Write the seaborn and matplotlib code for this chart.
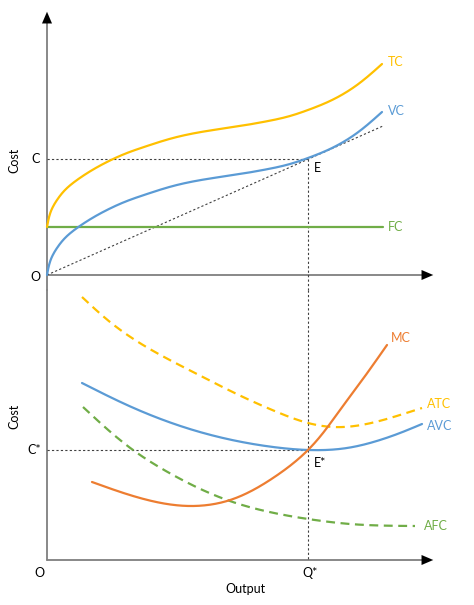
import numpy as np
import pandas as pd
import matplotlib
matplotlib.use("Agg")
import matplotlib.pyplot as plt
import seaborn as sns

sns.set_theme(style="white")
plt.rcParams['font.family'] = ['Lato', 'DejaVu Sans']

# ---- data (output units on x, cost units on y) ----
# top panel
vc_x = [0, 4, 10, 18, 30, 47, 64, 80, 97, 126, 160, 193, 216, 243, 261, 283, 310, 335]
vc_y = [0, 16, 27, 37, 47, 58, 67, 74, 80, 89, 96, 101, 105, 111, 117, 126, 142, 163]
tc_x = [0, 4, 10, 18, 30, 47, 64, 80, 97, 126, 160, 193, 216, 243, 261, 283, 310, 335]
tc_y = [48, 64, 75, 85, 95, 106, 115, 122, 128, 137, 144, 149, 153, 159, 165, 174, 190, 211]
fc_x = [0, 336]
fc_y = [48, 48]
ray_x = [0, 336]
ray_y = [0, 149]
q_star = 261
c_top = 116

# bottom panel
atc_x = [35, 63, 96, 146, 196, 230, 261, 286, 353, 375]
atc_y = [263, 238, 215, 188, 163, 148, 137, 133, 145, 152]
avc_x = [35, 80, 146, 226, 261, 300, 333, 353, 375]
avc_y = [177, 155, 130, 113, 110, 112, 120, 127, 136]
afc_x = [36, 86, 126, 180, 261, 303, 368]
afc_y = [153, 110, 85, 60, 41, 36, 34]
mc_x = [45, 93, 143, 180, 226, 261, 276, 293, 313, 340]
mc_y = [78, 62, 54, 59, 82, 110, 127, 150, 177, 215]
c_bot = 110

YEL, BLU, GRN, ORG = "#FFC000", "#5B9BD5", "#70AD47", "#ED7D31"
AXC = "#7F7F7F"


def _natural(t, f, ts):
    n = len(t)
    h = np.diff(t)
    A = np.zeros((n, n)); b = np.zeros(n)
    A[0, 0] = A[-1, -1] = 1
    for i in range(1, n - 1):
        A[i, i - 1] = h[i - 1]; A[i, i] = 2 * (h[i - 1] + h[i]); A[i, i + 1] = h[i]
        b[i] = 6 * ((f[i + 1] - f[i]) / h[i] - (f[i] - f[i - 1]) / h[i - 1])
    M = np.linalg.solve(A, b)
    idx = np.clip(np.searchsorted(t, ts) - 1, 0, n - 2)
    hi = h[idx]; a = t[idx + 1] - ts; c = ts - t[idx]
    return (M[idx] * a**3 / (6 * hi) + M[idx + 1] * c**3 / (6 * hi)
            + (f[idx] / hi - M[idx] * hi / 6) * a + (f[idx + 1] / hi - M[idx + 1] * hi / 6) * c)


def smooth(x, y, n=400):
    """Parametric natural cubic spline through the read points (drawing only)."""
    x = np.asarray(x, float); y = np.asarray(y, float)
    if len(x) < 3:
        return x, y
    t = np.concatenate([[0], np.cumsum(np.hypot(np.diff(x), np.diff(y)))])
    ts = np.linspace(0, t[-1], n)
    return _natural(t, x, ts), _natural(t, y, ts)


def curve(ax, x, y, color, ls="-", lw=1.6):
    sx, sy = smooth(x, y)
    df = pd.DataFrame({"x": sx, "y": sy})
    sns.lineplot(data=df, x="x", y="y", sort=False, ax=ax, color=color,
                 linestyle=ls, linewidth=lw, estimator=None)


W, H = 474, 605
fig = plt.figure(figsize=(W / 100, H / 100), dpi=100)
fig.patch.set_facecolor("white")

# top axes: pixel rows 0..290, origin at pixel (47,275)
ax1 = fig.add_axes([0, 1 - 290 / H, 1, 290 / H])
ax1.set_xlim(-47, W - 47)
ax1.set_ylim(275 - 290, 275)
# bottom axes: pixel rows 290..605, origin at pixel (47,560)
ax2 = fig.add_axes([0, 0, 1, 315 / H])
ax2.set_xlim(-47, W - 47)
ax2.set_ylim(560 - 605, 560 - 290)
for ax in (ax1, ax2):
    ax.axis("off")

arrow = dict(arrowstyle="-|>,head_width=0.3,head_length=0.7", color="black", lw=0.01)

# --- top panel ---
ax1.plot([0, 0], [-15, 258], color=AXC, lw=1.3, clip_on=False)
ax1.annotate("", xy=(0, 266), xytext=(0, 250), arrowprops=arrow)
ax1.plot([0, 378], [0, 0], color=AXC, lw=1.3)
ax1.annotate("", xy=(389, 0), xytext=(372, 0), arrowprops=arrow)

ax1.plot([0, q_star], [c_top, c_top], color="#404040", lw=0.8, ls=(0, (2, 2)))
ax1.plot([q_star, q_star], [c_top, -15], color="#404040", lw=0.8, ls=(0, (2, 2)), clip_on=False)
ax1.plot(ray_x, ray_y, color="#404040", lw=0.8, ls=(0, (2, 2)))

curve(ax1, fc_x, fc_y, GRN)
curve(ax1, tc_x, tc_y, YEL)
curve(ax1, vc_x, vc_y, BLU)

fs = 9
ax1.text(341, 213, "TC", color=YEL, fontsize=fs, va="center", ha="left")
ax1.text(341, 164, "VC", color=BLU, fontsize=fs, va="center", ha="left")
ax1.text(341, 48, "FC", color=GRN, fontsize=fs, va="center", ha="left")
ax1.text(267, 107, "E", color="black", fontsize=fs, va="center", ha="left")
ax1.text(-11, c_top, "C", color="black", fontsize=fs, va="center", ha="center")
ax1.text(-12, -2, "O", color="black", fontsize=fs, va="center", ha="center")
ax1.text(-33, 115, "Cost", color="black", fontsize=fs, va="center", ha="center", rotation=90)

# --- bottom panel ---
ax2.plot([0, 0], [0, 270], color=AXC, lw=1.3, clip_on=False)
ax2.plot([0, 378], [0, 0], color=AXC, lw=1.3)
ax2.annotate("", xy=(389, 0), xytext=(372, 0), arrowprops=arrow)

ax2.plot([0, q_star], [c_bot, c_bot], color="#404040", lw=0.8, ls=(0, (2, 2)))
ax2.plot([q_star, q_star], [270, 0], color="#404040", lw=0.8, ls=(0, (2, 2)), clip_on=False)

curve(ax2, atc_x, atc_y, YEL, ls=(0, (4, 2.5)))
curve(ax2, afc_x, afc_y, GRN, ls=(0, (4, 2.5)))
curve(ax2, avc_x, avc_y, BLU)
curve(ax2, mc_x, mc_y, ORG)

ax2.text(344, 222, "MC", color=ORG, fontsize=fs, va="center", ha="left")
ax2.text(380, 156, "ATC", color=YEL, fontsize=fs, va="center", ha="left")
ax2.text(380, 134, "AVC", color=BLU, fontsize=fs, va="center", ha="left")
ax2.text(377, 34, "AFC", color=GRN, fontsize=fs, va="center", ha="left")
ax2.text(267, 97, "E*", color="black", fontsize=fs, va="center", ha="left")
ax2.text(-13, c_bot, "C*", color="black", fontsize=fs, va="center", ha="center")
ax2.text(-8, -13, "O", color="black", fontsize=fs, va="center", ha="center")
ax2.text(q_star + 2, -13, "Q*", color="black", fontsize=fs, va="center", ha="center")
ax2.text(198, -29, "Output", color="black", fontsize=fs, va="center", ha="center")
ax2.text(-33, 144, "Cost", color="black", fontsize=fs, va="center", ha="center", rotation=90)

fig.savefig("out.png", dpi=100, facecolor="white")
